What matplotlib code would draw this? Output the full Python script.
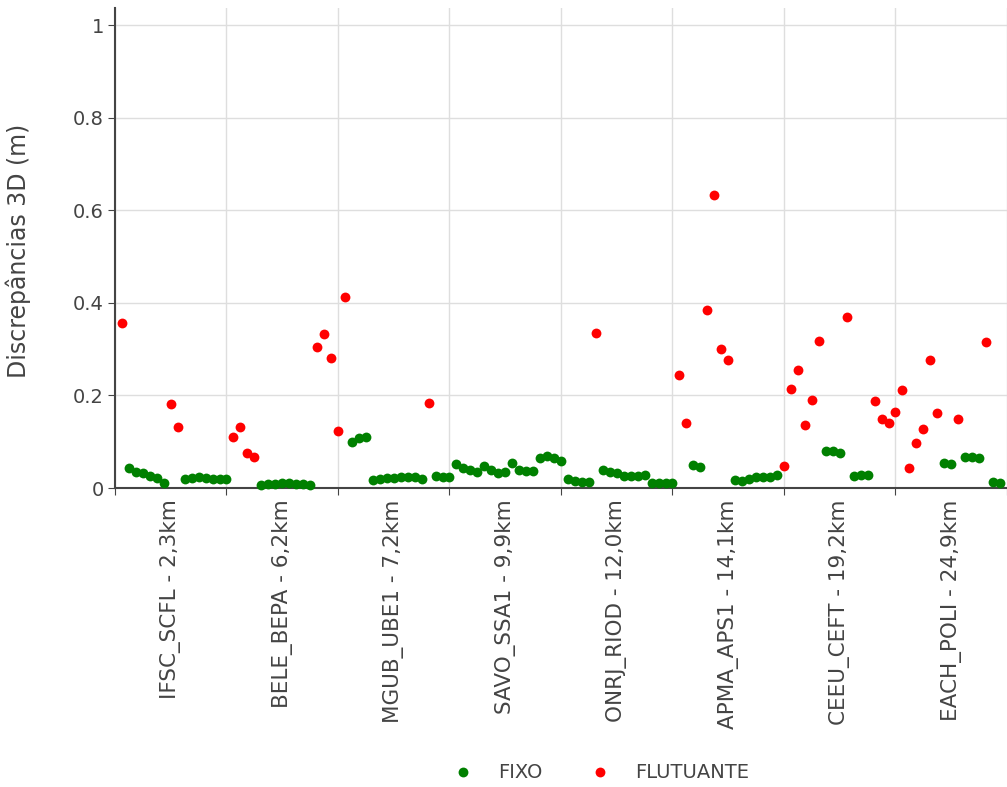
import numpy as np
import matplotlib
matplotlib.use("Agg")
import matplotlib.pyplot as plt

plt.rcParams['font.family'] = ['DejaVu Sans']

# Baselines (one block of 16 epochs each)
baselines = ["IFSC_SCFL - 2,3km", "BELE_BEPA - 6,2km", "MGUB_UBE1 - 7,2km",
             "SAVO_SSA1 - 9,9km", "ONRJ_RIOD - 12,0km", "APMA_APS1 - 14,1km",
             "CEEU_CEFT - 19,2km", "EACH_POLI - 24,9km"]
epocas_por_linha = 16

# Solution type per epoch: G = fixo, L = flutuante
tipo_g1 = "LGGGGGGLLGGGGGGG"
tipo_g2 = "LLLLGGGGGGGGLLLL"
tipo_g3 = "LGGGGGGGGGGGLGGG"
tipo_g4 = "GGGGGGGGGGGGGGGG"
tipo_g5 = "GGGGLGGGGGGGGGGG"
tipo_g6 = "LLGGLLLLGGGGGGGL"
tipo_g7 = "LLLLLGGGLGGGLLLL"
tipo_g8 = "LLLLLLGGLGGGLGG"

# 3D discrepancies (m) per epoch
disc_g1 = [0.356, 0.0425, 0.035, 0.033, 0.026, 0.021, 0.0115, 0.181, 0.131,
           0.019, 0.022, 0.024, 0.021, 0.019, 0.019, 0.020]
disc_g2 = [0.111, 0.132, 0.076, 0.066, 0.007, 0.008, 0.009, 0.010, 0.010,
           0.009, 0.008, 0.007, 0.304, 0.333, 0.281, 0.123]
disc_g3 = [0.412, 0.100, 0.109, 0.111, 0.017, 0.019, 0.021, 0.022, 0.024,
           0.024, 0.023, 0.019, 0.184, 0.026, 0.024, 0.024]
disc_g4 = [0.051, 0.0425, 0.039, 0.035, 0.0475, 0.039, 0.033, 0.035, 0.053,
           0.039, 0.037, 0.037, 0.064, 0.069, 0.064, 0.058]
disc_g5 = [0.019, 0.015, 0.014, 0.012, 0.334, 0.039, 0.035, 0.032, 0.027,
           0.027, 0.027, 0.028, 0.010, 0.010, 0.010, 0.010]
disc_g6 = [0.244, 0.141, 0.050, 0.045, 0.384, 0.633, 0.300, 0.276, 0.017,
           0.016, 0.019, 0.023, 0.024, 0.024, 0.028, 0.0475]
disc_g7 = [0.214, 0.255, 0.137, 0.190, 0.318, 0.081, 0.081, 0.075, 0.369,
           0.026, 0.028, 0.028, 0.189, 0.150, 0.140, 0.165]
disc_g8 = [0.212, 0.044, 0.0965, 0.127, 0.276, 0.163, 0.055, 0.051, 0.150,
           0.068, 0.068, 0.064, 0.316, 0.012, 0.010]

tipo = tipo_g1 + tipo_g2 + tipo_g3 + tipo_g4 + tipo_g5 + tipo_g6 + tipo_g7 + tipo_g8
disc = np.array(disc_g1 + disc_g2 + disc_g3 + disc_g4 + disc_g5 + disc_g6 + disc_g7 + disc_g8)
epoca = np.arange(1, len(disc) + 1)
fixo = np.array([t == "G" for t in tipo])

fig = plt.figure(figsize=(10.07, 7.87), dpi=100)
ax = fig.add_axes([0.1142, 0.3799, 0.8858, 0.6099])

ax.scatter(epoca[fixo], disc[fixo], s=50, c='green', linewidths=0,
           label="FIXO", zorder=3, clip_on=False)
ax.scatter(epoca[~fixo], disc[~fixo], s=50, c='red', linewidths=0,
           label="FLUTUANTE", zorder=3, clip_on=False)

ax.set_xlim(0, 127.6)
ax.set_ylim(0, 1.037)

# grid lines at block boundaries, labels at block centers
n = len(baselines)
ax.set_xticks(np.arange(0, n + 1) * epocas_por_linha)
ax.set_xticklabels([])
ax.set_xticks(np.arange(n) * epocas_por_linha + epocas_por_linha / 2, minor=True)
ax.set_xticklabels(baselines, minor=True, rotation=90, fontsize=15.5, color='#444')
ax.tick_params(axis='x', which='minor', length=0, pad=8)
ax.tick_params(axis='x', which='major', length=5, color='#444')

ax.set_yticks([0, 0.2, 0.4, 0.6, 0.8, 1])
ax.set_yticklabels(["0", "0.2", "0.4", "0.6", "0.8", "1"])
ax.tick_params(axis='y', length=5, color='#444', labelsize=14, labelcolor='#444', pad=3)

ax.grid(True, which='major', color='#dedede', linewidth=1)
ax.set_axisbelow(True)
for side in ['top', 'right']:
    ax.spines[side].set_visible(False)
for side in ['left', 'bottom']:
    ax.spines[side].set_color('#444')
    ax.spines[side].set_linewidth(1.5)

ax.set_ylabel("Discrepâncias 3D (m)", fontsize=17, color='#444')
ax.yaxis.set_label_coords(-0.094, 0.495)

fig.legend(loc='center', bbox_to_anchor=(0.592, 0.019), ncol=2, frameon=False,
           fontsize=14, handletextpad=0.8, columnspacing=1.94, markerscale=1.0,
           labelcolor='#444')

fig.savefig("out.png", dpi=100)
